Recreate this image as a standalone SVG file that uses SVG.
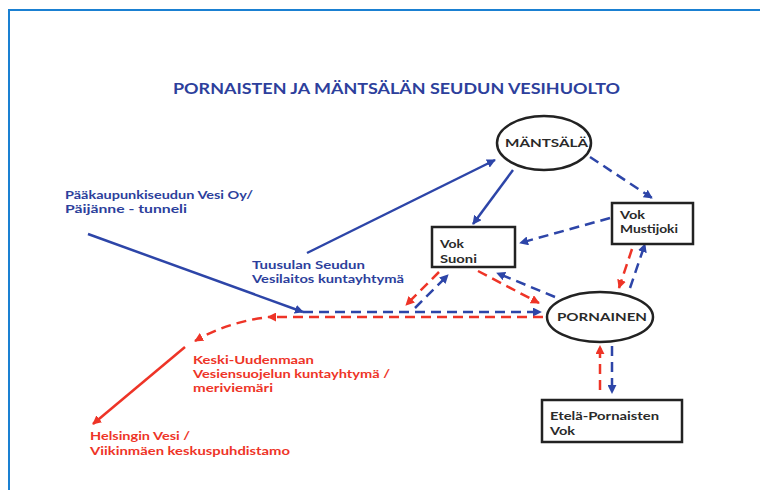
<svg xmlns="http://www.w3.org/2000/svg" width="760" height="490" viewBox="0 0 760 490">
<style>
  .t { font-family: Lato, "Liberation Sans", sans-serif; font-weight: 700; }
  .title { fill: #2d3f9c; font-size: 15.5px; }
  .blue { fill: #2d3f9c; font-size: 11.5px; }
  .red { fill: #ee3427; font-size: 11.5px; }
  .node { fill: #2a2a2a; font-size: 11.5px; }
  .shape { fill: #ffffff; stroke: #222222; stroke-width: 2.5; }
  .bs { fill: none; stroke: #2d45a8; stroke-width: 2.5; marker-end: url(#ab); }
  .bd { fill: none; stroke: #2d45a8; stroke-width: 2.5; stroke-dasharray: 10 6; marker-end: url(#ab); }
  .rs { fill: none; stroke: #ee3427; stroke-width: 2.5; marker-end: url(#ar); }
  .rd { fill: none; stroke: #ee3427; stroke-width: 2.5; stroke-dasharray: 10 6; marker-end: url(#ar); }
</style>
<defs>
  <marker id="ab" viewBox="0 0 10 10" refX="9" refY="5" markerWidth="9" markerHeight="9" markerUnits="userSpaceOnUse" orient="auto">
    <path d="M0,0 L10,5 L0,10 z" fill="#2d45a8"/>
  </marker>
  <marker id="ar" viewBox="0 0 10 10" refX="9" refY="5" markerWidth="9" markerHeight="9" markerUnits="userSpaceOnUse" orient="auto">
    <path d="M0,0 L10,5 L0,10 z" fill="#ee3427"/>
  </marker>
</defs>
<rect width="760" height="490" fill="#ffffff"/>
<path d="M9,490 L9,10 L760,10" fill="none" stroke="#1a80d2" stroke-width="2"/>
<text class="t title" x="173" y="94" textLength="447" lengthAdjust="spacingAndGlyphs">PORNAISTEN JA MÄNTSÄLÄN SEUDUN VESIHUOLTO</text>

<g id="connectors">
  <path class="bs" d="M88,234 L303,312"/>
  <path class="bd" d="M303,312 L541,312"/>
  <path class="rd" d="M543,317 L268,317"/>
  <path class="rd" d="M262,318 Q226,323 195,341"/>
  <path class="rs" d="M185,347 L93,424"/>
  <path class="bs" d="M307,253 L495,160"/>
  <path class="bs" d="M513,170 L473,224"/>
  <path class="bd" d="M590,157 L652,198"/>
  <path class="bd" d="M610,218 L520,243"/>
  <path class="rd" d="M632,249 L619,288"/>
  <path class="bd" d="M630,288 L645,244"/>
  <path class="rd" d="M600,390 L600,346"/>
  <path class="bd" d="M612,346 L612,393"/>
  <path class="rd" d="M478,271 L539,303"/>
  <path class="bd" d="M555,297 L497,273"/>
  <path class="rd" d="M439,272 L406,305"/>
  <path class="bd" d="M415,308 L448,275"/>
</g>

<g id="mantsala">
  <ellipse class="shape" cx="544" cy="143" rx="47" ry="27"/>
  <text class="t node" x="505" y="147" textLength="83" lengthAdjust="spacingAndGlyphs">MÄNTSÄLÄ</text>
</g>
<g id="vok-suoni">
  <rect class="shape" x="432" y="227" width="83" height="40"/>
  <text class="t node" x="440" y="248" textLength="24" lengthAdjust="spacingAndGlyphs">Vok</text>
  <text class="t node" x="440" y="263" textLength="37" lengthAdjust="spacingAndGlyphs">Suoni</text>
</g>
<g id="vok-mustijoki">
  <rect class="shape" x="612" y="203" width="81" height="41"/>
  <text class="t node" x="620" y="219" textLength="25" lengthAdjust="spacingAndGlyphs">Vok</text>
  <text class="t node" x="620" y="233" textLength="58" lengthAdjust="spacingAndGlyphs">Mustijoki</text>
</g>
<g id="pornainen">
  <ellipse class="shape" cx="600" cy="317" rx="53" ry="25"/>
  <text class="t node" x="557" y="321" textLength="90" lengthAdjust="spacingAndGlyphs">PORNAINEN</text>
</g>
<g id="etela-pornaisten-vok">
  <rect class="shape" x="542" y="400" width="140" height="42"/>
  <text class="t node" x="550" y="420" textLength="109" lengthAdjust="spacingAndGlyphs">Etelä-Pornaisten</text>
  <text class="t node" x="550" y="435" textLength="25" lengthAdjust="spacingAndGlyphs">Vok</text>
</g>
<g id="paakaupunkiseudun-vesi">
  <text class="t blue" x="65" y="199" textLength="188" lengthAdjust="spacingAndGlyphs">Pääkaupunkiseudun Vesi Oy/</text>
  <text class="t blue" x="65" y="213" textLength="122" lengthAdjust="spacingAndGlyphs">Päijänne - tunneli</text>
</g>
<g id="tuusulan-seudun">
  <text class="t blue" x="252" y="269" textLength="113" lengthAdjust="spacingAndGlyphs">Tuusulan Seudun</text>
  <text class="t blue" x="252" y="283" textLength="152" lengthAdjust="spacingAndGlyphs">Vesilaitos kuntayhtymä</text>
</g>
<g id="keski-uudenmaan">
  <text class="t red" x="193" y="364" textLength="121" lengthAdjust="spacingAndGlyphs">Keski-Uudenmaan</text>
  <text class="t red" x="193" y="378" textLength="197" lengthAdjust="spacingAndGlyphs">Vesiensuojelun kuntayhtymä /</text>
  <text class="t red" x="193" y="392" textLength="80" lengthAdjust="spacingAndGlyphs">meriviemäri</text>
</g>
<g id="helsingin-vesi">
  <text class="t red" x="90" y="440" textLength="100" lengthAdjust="spacingAndGlyphs">Helsingin Vesi /</text>
  <text class="t red" x="90" y="455" textLength="200" lengthAdjust="spacingAndGlyphs">Viikinmäen keskuspuhdistamo</text>
</g>
</svg>
